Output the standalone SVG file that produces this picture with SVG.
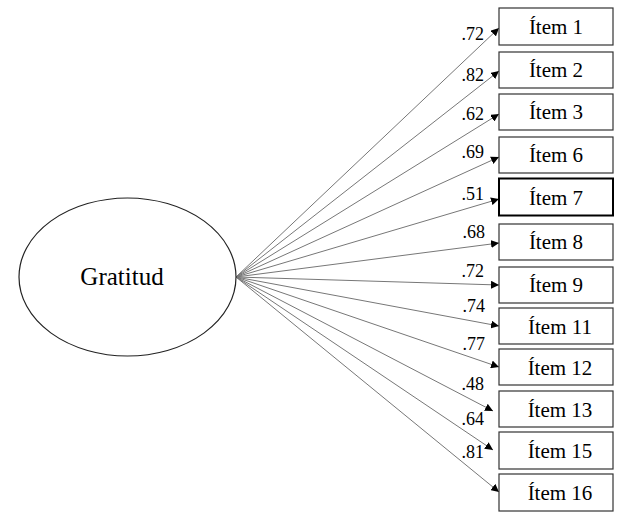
<svg xmlns="http://www.w3.org/2000/svg" width="640" height="520" viewBox="0 0 640 520">
<style>
.box{fill:#fff;stroke:#333;stroke-width:1.2}
.it{font-family:"Liberation Serif","Times New Roman",Tinos,"DejaVu Serif",serif;font-size:21px;fill:#000;text-anchor:middle}
.lb{font-family:"Liberation Serif","Times New Roman",Tinos,"DejaVu Serif",serif;font-size:18px;fill:#000;text-anchor:end}
.g{font-family:"Liberation Serif","Times New Roman",Tinos,"DejaVu Serif",serif;font-size:25px;fill:#000;text-anchor:middle}
.c{stroke:#777;stroke-width:1;fill:none;marker-end:url(#ah)}
</style>
<defs>
<marker id="ah" markerUnits="userSpaceOnUse" markerWidth="9" markerHeight="8" refX="8" refY="4" orient="auto">
<path d="M0,0 L8,4 L0,8 Z" fill="#000"/>
</marker>
</defs>
<rect width="640" height="520" fill="#fff"/>
<g id="connectors">
<line class="c" x1="236" y1="277" x2="499" y2="28"/>
<line class="c" x1="236" y1="277" x2="499" y2="71"/>
<line class="c" x1="236" y1="277" x2="499" y2="114"/>
<line class="c" x1="236" y1="277" x2="499" y2="157"/>
<line class="c" x1="236" y1="277" x2="499" y2="199"/>
<line class="c" x1="236" y1="277" x2="499" y2="243"/>
<line class="c" x1="236" y1="277" x2="499" y2="285"/>
<line class="c" x1="236" y1="277" x2="499" y2="326"/>
<line class="c" x1="236" y1="277" x2="499" y2="367"/>
<line class="c" x1="236" y1="277" x2="493" y2="411"/>
<line class="c" x1="236" y1="277" x2="493" y2="450"/>
<line class="c" x1="236" y1="277" x2="499" y2="492"/>
</g>
<g id="labels">
<text class="lb" x="484" y="40">.72</text>
<text class="lb" x="484" y="81">.82</text>
<text class="lb" x="484" y="120">.62</text>
<text class="lb" x="484" y="158">.69</text>
<text class="lb" x="484" y="200">.51</text>
<text class="lb" x="485" y="238">.68</text>
<text class="lb" x="484" y="277">.72</text>
<text class="lb" x="485" y="312">.74</text>
<text class="lb" x="485" y="350">.77</text>
<text class="lb" x="484" y="390">.48</text>
<text class="lb" x="484" y="425">.64</text>
<text class="lb" x="484" y="458">.81</text>
</g>
<g id="gratitud">
<ellipse cx="127.5" cy="277" rx="108.5" ry="79" fill="#fff" stroke="#222" stroke-width="1.2"/>
<text class="g" x="122" y="285">Gratitud</text>
</g>
<g id="item1"><rect class="box" x="499" y="8" width="114" height="37"/><text class="it" x="556" y="34">Ítem 1</text></g>
<g id="item2"><rect class="box" x="499" y="52" width="114" height="36"/><text class="it" x="556" y="77">Ítem 2</text></g>
<g id="item3"><rect class="box" x="499" y="94" width="114" height="36"/><text class="it" x="556" y="119">Ítem 3</text></g>
<g id="item6"><rect class="box" x="499" y="137" width="114" height="36"/><text class="it" x="556" y="162">Ítem 6</text></g>
<g id="item7"><rect class="box" x="499" y="178.5" width="114" height="37" style="stroke:#000;stroke-width:2"/><text class="it" x="556" y="205">Ítem 7</text></g>
<g id="item8"><rect class="box" x="499" y="224" width="114" height="36"/><text class="it" x="556" y="249">Ítem 8</text></g>
<g id="item9"><rect class="box" x="499" y="267" width="114" height="36"/><text class="it" x="556" y="292">Ítem 9</text></g>
<g id="item11"><rect class="box" x="499" y="308" width="114" height="36"/><text class="it" x="560" y="334">Ítem 11</text></g>
<g id="item12"><rect class="box" x="499" y="349" width="114" height="36"/><text class="it" x="560" y="375">Ítem 12</text></g>
<g id="item13"><rect class="box" x="499" y="391" width="114" height="36"/><text class="it" x="560" y="417">Ítem 13</text></g>
<g id="item15"><rect class="box" x="499" y="432" width="114" height="37"/><text class="it" x="560" y="458">Ítem 15</text></g>
<g id="item16"><rect class="box" x="499" y="474" width="114" height="37"/><text class="it" x="560" y="500">Ítem 16</text></g>
</svg>
